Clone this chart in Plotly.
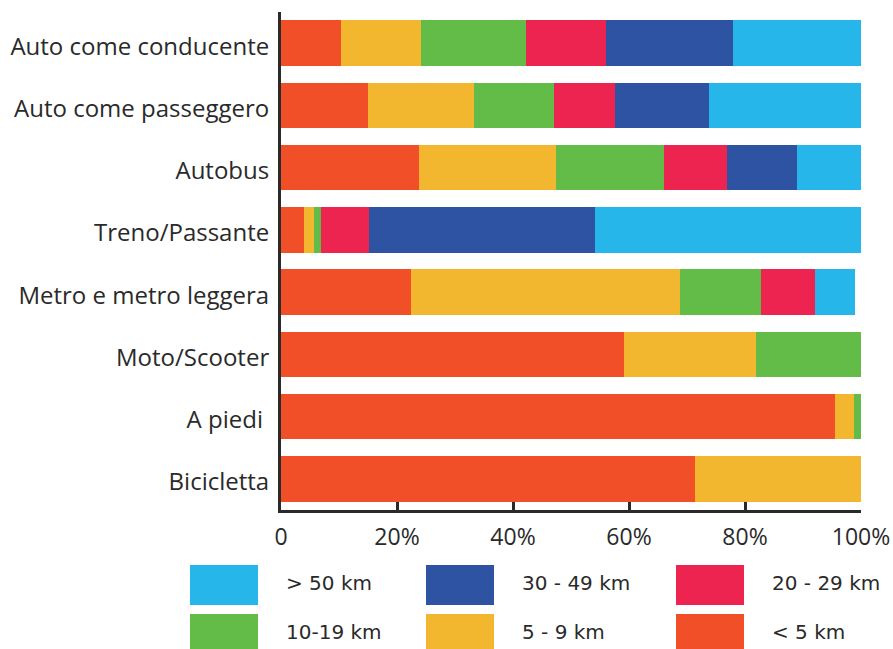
import plotly.graph_objects as go

categories = ["Auto come conducente", "Auto come passeggero", "Autobus", "Treno/Passante",
              "Metro e metro leggera", "Moto/Scooter", "A piedi ", "Bicicletta"]

series_names = ["< 5 km", "5 - 9 km", "10-19 km", "20 - 29 km", "30 - 49 km", "> 50 km"]
series_colors = ["#F04F27", "#F3B62F", "#62BC47", "#ED2450", "#2E53A3", "#27B6E9"]

lt5 =   [10.3, 15.0, 23.8, 4.0, 22.4, 59.1, 95.5, 71.4]
d5_9 =  [13.8, 18.3, 23.6, 1.7, 46.4, 22.8, 3.3, 28.6]
d10_19 = [18.1, 13.8, 18.6, 1.2, 14.0, 18.1, 1.2, 0]
d20_29 = [13.8, 10.5, 10.9, 8.3, 9.3, 0, 0, 0]
d30_49 = [21.9, 16.2, 12.1, 39.0, 0, 0, 0, 0]
gt50 =  [22.1, 26.2, 11.0, 45.9, 6.9, 0, 0, 0]

series_values = [lt5, d5_9, d10_19, d20_29, d30_49, gt50]

tick_vals = [0, 20, 40, 60, 80, 100]
tick_text = ["0", "20%", "40%", "60%", "80%", "100%"]

# legend layout order (row-major, 3 columns)
legend_order = ["> 50 km", "30 - 49 km", "20 - 29 km", "10-19 km", "5 - 9 km", "< 5 km"]

fig = go.Figure()
for name, color, vals in zip(series_names, series_colors, series_values):
    fig.add_trace(go.Bar(
        y=categories, x=vals, name=name, orientation="h",
        marker=dict(color=color, line=dict(width=0)),
        showlegend=False, hoverinfo="x+name",
    ))

W, H = 893, 649
ml, mr, mt, mb = 281, 32, 12, 139
PW, PH = W - ml - mr, H - mt - mb

fig.update_layout(
    width=W, height=H,
    barmode="stack",
    bargap=0.27,
    margin=dict(l=ml, r=mr, t=mt, b=mb, pad=0, autoexpand=False),
    plot_bgcolor="white", paper_bgcolor="white",
    font=dict(family="Open Sans", size=23, color="#2a2a2a"),
    xaxis=dict(range=[0, 100], tickvals=tick_vals, ticktext=tick_text, automargin=False,
               showgrid=False, zeroline=False, showline=True, linecolor="#2a2a2a",
               linewidth=3, ticks="inside", ticklen=8, tickwidth=3, tickcolor="#2a2a2a",
               ticklabelstandoff=4,
               tickfont=dict(family="Open Sans", size=23, color="#2a2a2a"), fixedrange=True),
    yaxis=dict(autorange=False, range=[7.5, -0.5], type="category", automargin=False,
               showgrid=False, zeroline=False, showline=True, linecolor="#2a2a2a",
               linewidth=3, ticks="", ticklabelstandoff=4, ticklabelshift=-3,
               tickfont=dict(family="Open Sans", size=24, color="#2a2a2a"), fixedrange=True),
)

# custom legend below the plot
col_x = [190, 426, 676]
row_y = [565, 614]
sw_w, sw_h = 68, 40
for i, name in enumerate(legend_order):
    color = series_colors[series_names.index(name)]
    c, r = i % 3, i // 3
    x0 = col_x[c]
    y0 = row_y[r]
    fig.add_shape(type="rect", xref="paper", yref="paper",
                  x0=(x0 - ml) / PW, x1=(x0 + sw_w - ml) / PW,
                  y0=1 - (y0 - mt) / PH, y1=1 - (y0 + sw_h - mt) / PH,
                  fillcolor=color, line=dict(width=0), layer="above")
    fig.add_annotation(xref="paper", yref="paper",
                       x=(x0 + 94 - ml) / PW,
                       y=1 - (y0 + 18 - mt) / PH,
                       text=name, showarrow=False, xanchor="left", yanchor="middle",
                       font=dict(family="DejaVu Sans", size=20, color="#2a2a2a"))

fig.write_html("out.html", config={"displayModeBar": False},
               post_script="document.body.style.margin='0';document.body.style.overflow='hidden';")
